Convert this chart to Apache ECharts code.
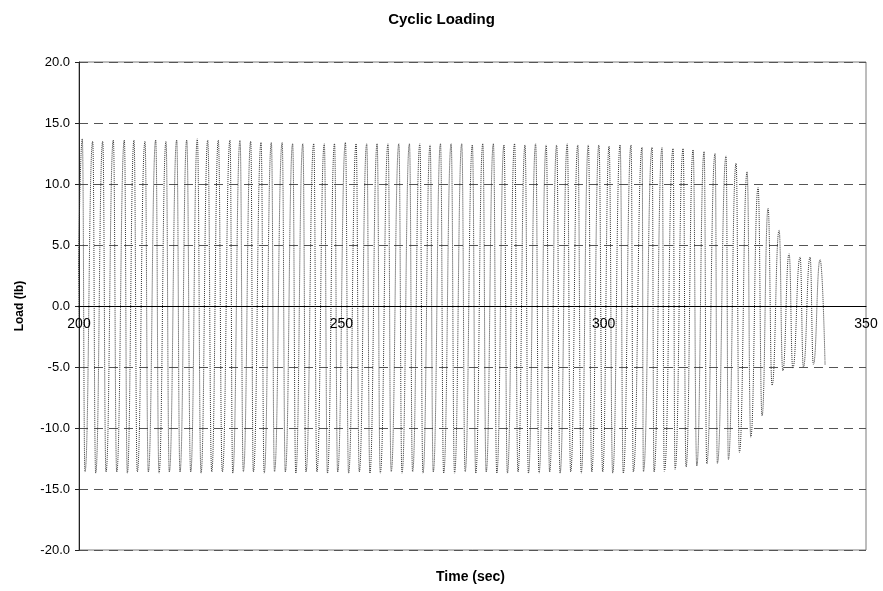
<!DOCTYPE html>
<html>
<head>
<meta charset="utf-8">
<title>Cyclic Loading</title>
<script src="https://cdn.jsdelivr.net/npm/echarts@6/dist/echarts.min.js"></script>
<style>
  html, body { margin: 0; padding: 0; background: #fff; }
  #chart { width: 883px; height: 591px; }
</style>
</head>
<body>
<div id="chart"></div>
<script>
// Load cell record: one peak and one trough per loading cycle.
// Trough times/loads carry one extra leading point (cycle in progress at 200 s).
const peakTimes = [
  200.63, 202.61, 204.52, 206.54, 208.64, 210.48, 212.58, 214.62, 216.58, 218.62,
  220.53, 222.55, 224.53, 226.55, 228.78, 230.69, 232.73, 234.70, 236.66, 238.72,
  240.72, 242.66, 244.74, 246.75, 248.70, 250.78, 252.82, 254.84, 256.82, 258.90,
  260.96, 262.98, 264.96, 266.92, 268.90, 270.93, 272.95, 274.97, 276.96, 278.98,
  281.00, 283.02, 285.01, 287.03, 289.05, 291.04, 293.06, 295.07, 297.08, 299.09,
  301.03, 303.13, 305.22, 307.32, 309.23, 311.13, 313.23, 315.14, 317.04, 319.14,
  321.24, 323.33, 325.24, 327.34, 329.43, 331.34, 333.44, 335.34, 337.44, 339.34,
  341.25
];
const peakLoads = [
  13.7, 13.5, 13.5, 13.6, 13.6, 13.6, 13.5, 13.6, 13.5, 13.6,
  13.6, 13.7, 13.6, 13.6, 13.6, 13.6, 13.5, 13.4, 13.4, 13.4,
  13.3, 13.3, 13.3, 13.3, 13.3, 13.4, 13.3, 13.3, 13.3, 13.3,
  13.3, 13.3, 13.3, 13.2, 13.3, 13.3, 13.3, 13.2, 13.3, 13.3,
  13.2, 13.3, 13.2, 13.3, 13.2, 13.2, 13.3, 13.2, 13.2, 13.2,
  13.1, 13.2, 13.2, 13.0, 13.0, 13.0, 12.9, 12.9, 12.8, 12.65,
  12.5, 12.3, 11.7, 11.0, 9.7, 8.0, 6.2, 4.3, 4.0, 4.0,
  3.8
];
const troughTimes = [
  199.40,
  201.14, 203.18, 205.15, 207.19, 209.21, 211.11, 213.21, 215.25, 217.21, 219.25,
  221.29, 223.26, 225.30, 227.32, 229.30, 231.32, 233.23, 235.30, 237.26, 239.32,
  241.32, 243.26, 245.34, 247.35, 249.30, 251.38, 253.42, 255.44, 257.42, 259.50,
  261.56, 263.58, 265.56, 267.52, 269.50, 271.58, 273.60, 275.62, 277.61, 279.63,
  281.65, 283.67, 285.66, 287.68, 289.70, 291.69, 293.71, 295.72, 297.73, 299.81,
  301.72, 303.74, 305.65, 307.57, 309.60, 311.57, 313.61, 315.71, 317.75, 319.65,
  321.67, 323.77, 325.87, 328.04, 330.19, 332.10, 334.14, 336.05, 338.07, 339.97,
  342.20
];
const troughLoads = [
  -13.6,
  -13.6, -13.7, -13.6, -13.6, -13.7, -13.6, -13.6, -13.7, -13.6, -13.6,
  -13.6, -13.7, -13.6, -13.6, -13.7, -13.6, -13.6, -13.7, -13.6, -13.6,
  -13.7, -13.6, -13.6, -13.7, -13.6, -13.7, -13.6, -13.7, -13.7, -13.6,
  -13.7, -13.6, -13.7, -13.6, -13.7, -13.7, -13.6, -13.7, -13.6, -13.7,
  -13.7, -13.6, -13.7, -13.7, -13.6, -13.7, -13.6, -13.7, -13.6, -13.6,
  -13.7, -13.7, -13.6, -13.6, -13.6, -13.55, -13.4, -13.2, -13.1, -12.95,
  -12.9, -12.6, -12.0, -10.75, -9.0, -6.5, -5.3, -5.1, -5.0, -4.8,
  -4.85
];

const xTicks = { min: 200, max: 350, step: 50 };
const yTicks = { min: -20, max: 20, step: 5 };

// Interleave troughs and peaks into one time-ordered trace.
const trace = [];
for (let i = 0; i < troughTimes.length; i++) {
  trace.push([troughTimes[i], troughLoads[i]]);
  if (i < peakTimes.length) trace.push([peakTimes[i], peakLoads[i]]);
}

const FONT = '"Liberation Sans", Arial, sans-serif';
const GRID = { left: 79, right: 17, top: 62, bottom: 41 };
const plotHeight = 591 - GRID.top - GRID.bottom;
// The time axis (line and labels) sits on the zero-load line, half way up the plot.
const timeAxisOffset = -plotHeight * (0 - yTicks.min) / (yTicks.max - yTicks.min);

const chart = echarts.init(document.getElementById('chart'), null, { renderer: 'canvas' });

chart.setOption({
  animation: false,
  backgroundColor: '#ffffff',
  title: {
    text: 'Cyclic Loading',
    left: 'center',
    top: 7,
    textStyle: { fontFamily: FONT, fontSize: 15, fontWeight: 'bold', color: '#000' }
  },
  grid: Object.assign({ show: true, borderColor: '#7a7a7a', borderWidth: 1 }, GRID),
  xAxis: {
    type: 'value',
    min: xTicks.min, max: xTicks.max, interval: xTicks.step,
    position: 'bottom',
    offset: timeAxisOffset,
    z: 4,
    axisLine: { onZero: false, lineStyle: { color: '#000', width: 1 } },
    axisTick: { show: false },
    axisLabel: {
      margin: 11, fontFamily: FONT, fontSize: 14, color: '#000',
      showMinLabel: true, showMaxLabel: true
    },
    splitLine: { show: false }
  },
  yAxis: {
    type: 'value',
    min: yTicks.min, max: yTicks.max, interval: yTicks.step,
    name: 'Load (lb)',
    nameLocation: 'middle',
    nameGap: 53,
    nameRotate: 90,
    nameTextStyle: { fontFamily: FONT, fontSize: 12, fontWeight: 'bold', color: '#000' },
    axisLine: { show: true, lineStyle: { color: '#222', width: 1 } },
    axisTick: { show: true, inside: false, length: 4, lineStyle: { color: '#222' } },
    axisLabel: {
      margin: 9, fontFamily: FONT, fontSize: 13, color: '#000',
      formatter: v => v.toFixed(1)
    },
    splitLine: {
      show: true,
      lineStyle: { color: '#555', width: 1, type: [9, 6] }
    }
  },
  graphic: [{
    type: 'text',
    left: 436,
    top: 570,
    style: {
      text: 'Time (sec)',
      font: 'bold 14px ' + FONT,
      fill: '#000'
    }
  }],
  series: [{
    type: 'line',
    data: trace,
    smooth: 0.5,
    smoothMonotone: 'x',
    showSymbol: false,
    clip: true,
    lineStyle: { color: '#333', width: 1, type: [1, 1] },
    z: 2
  }]
});
</script>
</body>
</html>
